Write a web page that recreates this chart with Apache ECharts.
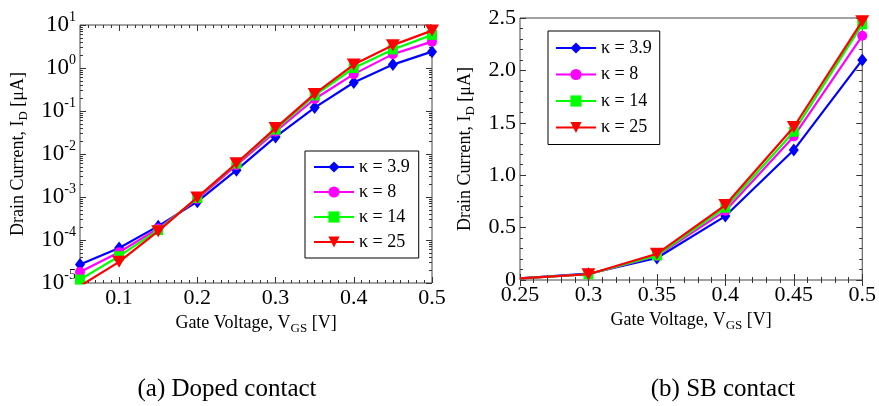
<!DOCTYPE html>
<html>
<head>
<meta charset="utf-8">
<script src="https://cdn.jsdelivr.net/npm/echarts@6/dist/echarts.min.js"></script>
<style>
  html, body { margin: 0; padding: 0; background: #fff; }
  #chart { width: 879px; height: 406px; }
</style>
</head>
<body>
<div id="chart"></div>
<script>
// Series labels (dielectric constant of the gate oxide)
const seriesNames = ['κ = 3.9', 'κ = 8', 'κ = 14', 'κ = 25'];

// (a) Doped contact: drain current [µA] vs gate voltage [V]
const vgsDoped = [0.05, 0.10, 0.15, 0.20, 0.25, 0.30, 0.35, 0.40, 0.45, 0.50];
const dopedK39 = [2.7e-5, 6.5e-5, 2.1e-4, 7.8e-4, 4.2e-3, 0.025, 0.12, 0.46, 1.2, 2.4];
const dopedK8  = [1.8e-5, 5.2e-5, 1.85e-4, 9.0e-4, 5.5e-3, 0.033, 0.19, 0.72, 2.1, 4.1];
const dopedK14 = [1.2e-5, 4.2e-5, 1.7e-4, 9.5e-4, 6.0e-3, 0.037, 0.23, 1.0, 2.7, 5.9];
const dopedK25 = [8.5e-6, 3.1e-5, 1.6e-4, 9.8e-4, 6.1e-3, 0.040, 0.25, 1.2, 3.4, 7.4];

// (b) SB contact: drain current [µA] vs gate voltage [V]
const vgsSB = [0.25, 0.30, 0.35, 0.40, 0.45, 0.50];
const sbK39 = [0.015, 0.060, 0.21, 0.61, 1.24, 2.10];
const sbK8  = [0.015, 0.055, 0.23, 0.66, 1.37, 2.33];
const sbK14 = [0.015, 0.055, 0.235, 0.69, 1.415, 2.44];
const sbK25 = [0.015, 0.055, 0.25, 0.715, 1.46, 2.47];

// Tick values
const dopedXTicks = [0.1, 0.2, 0.3, 0.4, 0.5];
const dopedYTicks = [1e-5, 1e-4, 1e-3, 1e-2, 1e-1, 1, 10];
const sbXTicks = [0.25, 0.3, 0.35, 0.4, 0.45, 0.5];
const sbYTicks = [0, 0.5, 1.0, 1.5, 2.0, 2.5];

const FONT = 'Liberation Serif';
const colors = ['#0000ff', '#ff00ff', '#00ff00', '#ff0000'];
const symbols = ['diamond', 'circle', 'rect', 'triangle'];
const symbolSizes = [[10, 13], 10, 10, [14, 12]];
const symbolRotates = [0, 0, 0, 180];

const round = v => Math.round(v * 1e6) / 1e6;
function range(a, b, step) {
  const out = [];
  for (let i = 0; a + i * step <= b + 1e-9; i++) out.push(round(a + i * step));
  return out;
}
// minor tick positions
const dopedXMinor = range(0.05, 0.5, 0.01);
const dopedYMinor = [];
for (let e = -5; e < 1; e++) for (let m = 2; m <= 9; m++) dopedYMinor.push(m * Math.pow(10, e));
const sbXMinor = range(0.25, 0.5, 0.01);
const sbYMinor = range(0, 2.5, 0.1);

const tickFont = { fontFamily: FONT, fontSize: 22, color: '#000' };
const nameStyle = {
  fontFamily: FONT, fontSize: 18, color: '#000',
  rich: { sub: { fontFamily: FONT, fontSize: 13, color: '#000', padding: [10, 0, 0, 0] } }
};

function xAxes(gridIndex, min, max, ticks, minor, fmt, name, nameGap) {
  const base = { type: 'value', gridIndex, min, max, splitLine: { show: false }, axisLine: { show: false } };
  return [
    Object.assign({}, base, {
      position: 'bottom',
      name, nameLocation: 'middle', nameGap, nameTextStyle: nameStyle,
      axisTick: { inside: true, length: 6, customValues: ticks, lineStyle: { color: '#333' } },
      axisLabel: Object.assign({ margin: 4, customValues: ticks, formatter: fmt }, tickFont)
    }),
    Object.assign({}, base, {
      position: 'bottom',
      axisTick: { inside: true, length: 3, customValues: minor, lineStyle: { color: '#333' } },
      axisLabel: { show: false }
    }),
    Object.assign({}, base, {
      position: 'top',
      axisTick: { inside: true, length: 6, customValues: ticks, lineStyle: { color: '#333' } },
      axisLabel: { show: false }
    }),
    Object.assign({}, base, {
      position: 'top',
      axisTick: { inside: true, length: 3, customValues: minor, lineStyle: { color: '#333' } },
      axisLabel: { show: false }
    })
  ];
}

function yAxes(gridIndex, type, min, max, ticks, minor, fmt, rich, name, nameGap) {
  const base = { type, gridIndex, min, max, splitLine: { show: false }, axisLine: { show: false } };
  if (type === 'log') base.logBase = 10;
  return [
    Object.assign({}, base, {
      position: 'left',
      name, nameLocation: 'middle', nameGap, nameRotate: 90, nameTextStyle: nameStyle,
      axisTick: { inside: true, length: 6, customValues: ticks, lineStyle: { color: '#333' } },
      axisLabel: Object.assign({ margin: 4, customValues: ticks, formatter: fmt, rich }, tickFont)
    }),
    Object.assign({}, base, {
      position: 'left',
      axisTick: { inside: true, length: 3, customValues: minor, lineStyle: { color: '#333' } },
      axisLabel: { show: false }
    }),
    Object.assign({}, base, {
      position: 'right',
      axisTick: { inside: true, length: 6, customValues: ticks, lineStyle: { color: '#333' } },
      axisLabel: { show: false }
    }),
    Object.assign({}, base, {
      position: 'right',
      axisTick: { inside: true, length: 3, customValues: minor, lineStyle: { color: '#333' } },
      axisLabel: { show: false }
    })
  ];
}

function makeSeries(xs, ys, i, axisIndex, hideFirst) {
  return {
    type: 'line',
    name: seriesNames[i],
    xAxisIndex: axisIndex,
    yAxisIndex: axisIndex,
    data: xs.map((x, k) => (hideFirst && k === 0)
      ? { value: [x, ys[k]], symbol: 'none' }
      : [x, ys[k]]),
    symbol: symbols[i],
    symbolSize: symbolSizes[i],
    symbolRotate: symbolRotates[i],
    showAllSymbol: true,
    clip: true,
    color: colors[i],
    lineStyle: { width: 2.2, color: colors[i] },
    itemStyle: { color: colors[i] },
    z: 2 + i
  };
}

const legendBase = {
  orient: 'vertical',
  backgroundColor: '#fff',
  borderColor: '#000',
  borderWidth: 1,
  borderRadius: 0,
  itemWidth: 40,
  itemHeight: 14,
  selectedMode: false,
  textStyle: { fontFamily: FONT, fontSize: 18, color: '#000' },
  data: seriesNames
};

const dopedSeries = [dopedK39, dopedK8, dopedK14, dopedK25];
const sbSeries = [sbK39, sbK8, sbK14, sbK25];

const option = {
  animation: false,
  backgroundColor: '#fff',
  grid: [
    { left: 80, top: 25, width: 352, height: 258, show: true, borderColor: '#444', borderWidth: 1, backgroundColor: 'transparent' },
    { left: 520, top: 18, width: 345, height: 262, show: true, borderColor: '#444', borderWidth: 1, backgroundColor: 'transparent' }
  ],
  xAxis: [].concat(
    xAxes(0, 0.05, 0.5, dopedXTicks, dopedXMinor, v => v.toFixed(1), 'Gate Voltage, V{sub|GS} [V]', 29),
    xAxes(1, 0.25, 0.5, sbXTicks, sbXMinor, v => String(Math.round(v * 100) / 100), 'Gate Voltage, V{sub|GS} [V]', 29)
  ),
  yAxis: [].concat(
    yAxes(0, 'log', 1e-5, 10, dopedYTicks, dopedYMinor,
      v => '{b|10}{s|' + Math.round(Math.log10(v)) + '}',
      {
        b: { fontFamily: FONT, fontSize: 23, color: '#000' },
        s: { fontFamily: FONT, fontSize: 14, color: '#000', padding: [0, 0, 16, 0] }
      },
      'Drain Current, I{sub|D} [μA]', 50),
    yAxes(1, 'value', 0, 2.5, sbYTicks, sbYMinor,
      v => (v === 0 ? '0' : v.toFixed(1)), undefined,
      'Drain Current, I{sub|D} [μA]', 43)
  ),
  legend: [
    Object.assign({}, legendBase, { left: 305, top: 151, itemGap: 7, padding: [7, 9, 7, 8] }),
    Object.assign({}, legendBase, { left: 548, top: 31, itemGap: 8.5, padding: [8, 8, 8, 7] })
  ],
  series: [].concat(
    dopedSeries.map((ys, i) => makeSeries(vgsDoped, ys, i, 0, false)),
    sbSeries.map((ys, i) => makeSeries(vgsSB, ys, i, 4, true))
  ),
  graphic: [
    {
      type: 'text', x: 227, y: 389,
      style: { text: '(a) Doped contact', fontFamily: FONT, fontSize: 25, fill: '#000', align: 'center', verticalAlign: 'middle' }
    },
    {
      type: 'text', x: 723, y: 389,
      style: { text: '(b) SB contact', fontFamily: FONT, fontSize: 25, fill: '#000', align: 'center', verticalAlign: 'middle' }
    }
  ]
};

const chart = echarts.init(document.getElementById('chart'), null, { renderer: 'canvas' });
chart.setOption(option);
</script>
</body>
</html>
